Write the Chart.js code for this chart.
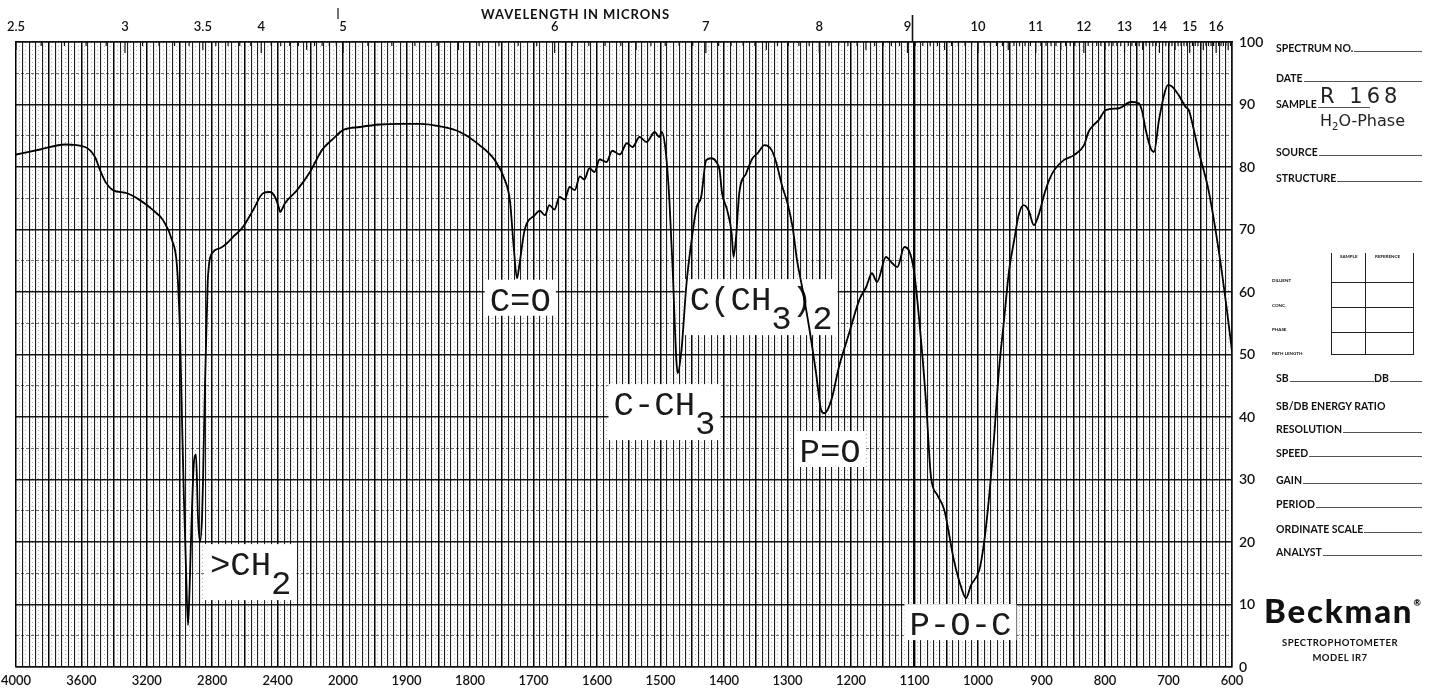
<!DOCTYPE html>
<html>
<head>
<meta charset="utf-8">
<script src="https://cdn.jsdelivr.net/npm/chart.js@4.4.1/dist/chart.umd.min.js"></script>
<style>
  html, body { margin: 0; padding: 0; background: #fff; }
  #sheet { position: relative; width: 1435px; height: 690px; overflow: hidden; color: #111;
           font-family: Lato, "DejaVu Sans", sans-serif; }
  #sheet canvas { position: absolute; left: 0; top: 0; }
  .title { position: absolute; left: 481px; top: 6px; font: 700 13px Lato, sans-serif; letter-spacing: 0.9px; }
  .row { position: absolute; left: 1276px; width: 146px; display: flex; align-items: baseline;
         font: 700 10.5px Lato, "DejaVu Sans", sans-serif; white-space: nowrap; }
  .row i { flex: 1; border-bottom: 1px solid #555; margin-left: 1px; }
  .hand { position: absolute; font-family: "DejaVu Sans", sans-serif; color: #222; white-space: nowrap; }
  .tiny { position: absolute; font: 700 4.5px Lato, sans-serif; white-space: nowrap; }
  .grid-box { position: absolute; border-color: #222; border-style: solid; }
  .brand { position: absolute; left: 1264px; top: 590px; font: 900 33px Lato, sans-serif; letter-spacing: 1.8px; }
  .brand sup { font-size: 9px; vertical-align: top; position: relative; top: 7px; letter-spacing: 0; }
  .model { position: absolute; left: 1270px; width: 140px; text-align: center;
           font: 700 9.5px Lato, sans-serif; letter-spacing: 0.5px; }
</style>
</head>
<body>
<div id="sheet">
  <canvas id="ir" width="1435" height="690"></canvas>
  <div class="title">WAVELENGTH IN MICRONS</div>

  <div class="row" style="top:42px">SPECTRUM NO.<i></i></div>
  <div class="row" style="top:72px">DATE<i></i></div>
  <div class="row" style="top:98px">SAMPLE<i style="flex:0 0 52px"></i></div>
  <div class="hand" style="left:1320px;top:84px;font-size:21px;letter-spacing:4px">R 168</div>
  <div class="hand" style="left:1320px;top:111px;font-size:16px">H<sub style="font-size:10px">2</sub>O-Phase</div>
  <div class="row" style="top:146px">SOURCE<i></i></div>
  <div class="row" style="top:172px">STRUCTURE<i></i></div>

  <div class="grid-box" style="left:1331px;top:253px;width:81px;height:101px;border-width:0 1px 1px 1px"></div>
  <div class="grid-box" style="left:1365px;top:253px;width:0;height:102px;border-width:0 0 0 1px"></div>
  <div class="grid-box" style="left:1331px;top:282px;width:82px;height:0;border-width:1px 0 0 0"></div>
  <div class="grid-box" style="left:1331px;top:307px;width:82px;height:0;border-width:1px 0 0 0"></div>
  <div class="grid-box" style="left:1331px;top:332px;width:82px;height:0;border-width:1px 0 0 0"></div>
  <div class="tiny" style="left:1340px;top:254px">SAMPLE</div>
  <div class="tiny" style="left:1375px;top:254px">REFERENCE</div>
  <div class="tiny" style="left:1272px;top:278px">DILUENT</div>
  <div class="tiny" style="left:1272px;top:303px">CONC.</div>
  <div class="tiny" style="left:1272px;top:327px">PHASE</div>
  <div class="tiny" style="left:1272px;top:351px">PATH LENGTH</div>

  <div class="row" style="top:372px">SB<i></i>DB<i style="flex:0 0 32px"></i></div>
  <div class="row" style="top:400px">SB/DB ENERGY RATIO</div>
  <div class="row" style="top:423px">RESOLUTION<i></i></div>
  <div class="row" style="top:447px">SPEED<i></i></div>
  <div class="row" style="top:474px">GAIN<i></i></div>
  <div class="row" style="top:498px">PERIOD<i></i></div>
  <div class="row" style="top:523px">ORDINATE SCALE<i></i></div>
  <div class="row" style="top:546px">ANALYST<i></i></div>

  <div class="brand">Beckman<sup>&reg;</sup></div>
  <div class="model" style="top:637px">SPECTROPHOTOMETER</div>
  <div class="model" style="top:652px">MODEL IR7</div>
</div>

<script>
// Infrared spectrum, wavenumber (cm-1) against percent transmittance
const wavenumbers = [
  4000, 3853, 3700, 3578, 3517, 3486, 3450, 3407, 3321, 3242, 3162, 3101, 3046, 3015,
  2997, 2985, 2973, 2960, 2948, 2939, 2930, 2911, 2899, 2887, 2875, 2862, 2856, 2844,
  2832, 2826, 2795, 2752, 2710, 2673, 2612, 2550, 2489, 2447, 2416, 2391, 2385, 2355,
  2281, 2202, 2129, 2061, 2000, 1973, 1942, 1910, 1879, 1847, 1816, 1785, 1761, 1745,
  1737, 1731, 1726, 1722, 1714, 1698, 1690, 1682, 1675, 1667, 1659, 1651, 1643, 1635,
  1627, 1620, 1612, 1604, 1596, 1585, 1576, 1564, 1553, 1544, 1533, 1522, 1509, 1502,
  1498, 1492, 1486, 1481, 1475, 1473, 1467, 1459, 1451, 1443, 1436, 1428, 1420, 1412,
  1407, 1403, 1395, 1388, 1385, 1381, 1376, 1365, 1355, 1347, 1336, 1325, 1318, 1308,
  1300, 1292, 1285, 1277, 1266, 1255, 1247, 1242, 1231, 1219, 1203, 1187, 1176, 1167,
  1159, 1145, 1135, 1127, 1116, 1109, 1101, 1093, 1082, 1074, 1064, 1053, 1038, 1025,
  1019, 1011, 998, 991, 983, 975, 967, 959, 951, 943, 936, 928, 920, 912,
  904, 896, 888, 880, 865, 849, 833, 826, 818, 810, 799, 778, 759, 747,
  742, 736, 728, 723, 715, 707, 701, 696, 684, 673, 668, 660, 653, 637,
  621, 608, 600
];
const transmittance = [
  82.0, 82.8, 83.6, 83.2, 81.6, 79.5, 77.5, 76.3, 75.8, 74.7, 73.1, 71.5, 68.3, 64.0,
  53.4, 40.0, 27.0, 15.5, 6.7, 12.0, 20.0, 33.0, 34.0, 24.0, 20.0, 24.0, 30.0, 45.4,
  57.1, 62.4, 66.4, 67.0, 67.8, 68.8, 70.4, 73.1, 75.8, 76.0, 75.2, 73.4, 72.8, 74.2,
  76.3, 79.2, 82.7, 84.5, 85.9, 86.4, 86.8, 86.9, 86.9, 86.5, 85.6, 83.5, 81.1, 77.9,
  74.5, 67.0, 62.2, 64.5, 69.9, 72.3, 73.0, 72.3, 73.9, 73.2, 75.2, 74.8, 76.8, 76.3,
  78.5, 78.0, 79.8, 79.2, 81.2, 80.8, 82.6, 82.0, 83.8, 83.2, 84.8, 84.0, 85.6, 84.8,
  85.6, 82.7, 74.7, 64.0, 49.1, 47.0, 50.7, 61.4, 68.3, 73.6, 75.2, 81.1, 81.4, 80.8,
  79.5, 75.8, 73.1, 69.4, 65.6, 68.8, 75.8, 79.0, 81.4, 82.2, 83.5, 82.7, 80.8, 76.8,
  74.2, 70.4, 65.1, 60.8, 54.4, 47.0, 41.1, 40.6, 42.7, 48.0, 53.4, 58.7, 60.8, 63.0,
  61.6, 65.6, 64.6, 64.0, 67.2, 66.7, 63.5, 56.0, 42.7, 30.4, 27.5, 25.1, 17.1, 12.3,
  11.0, 13.1, 15.5, 19.5, 26.7, 36.3, 47.5, 55.5, 63.5, 68.3, 72.3, 73.9, 73.0, 70.7,
  72.5, 75.5, 77.9, 79.5, 81.1, 81.9, 83.5, 85.6, 86.7, 87.5, 89.1, 89.4, 90.4, 90.2,
  89.1, 86.0, 83.0, 82.4, 87.5, 91.5, 93.1, 93.0, 91.5, 89.6, 89.1, 85.9, 82.7, 76.3,
  66.7, 57.1, 50.5
];

const wavenumberLabels = [4000, 3600, 3200, 2800, 2400, 2000, 1900, 1800, 1700, 1600,
                          1500, 1400, 1300, 1200, 1100, 1000, 900, 800, 700, 600];
const micronLabels = [2.5, 3, 3.5, 4, 5, 6, 7, 8, 9, 10, 11, 12, 13, 14, 15, 16];
const percentLabels = [0, 10, 20, 30, 40, 50, 60, 70, 80, 90, 100];

// band assignments; "_" puts the next character on the subscript line
const bandNames = ['>CH_2', 'C=O', 'C(CH_3)_2', 'C-CH_3', 'P=O', 'P-O-C'];
const bandWavenumbers = [2814, 1769, 1454, 1574, 1281, 1108];
const bandLevels = [14.7, 57.0, 57.1, 40.3, 32.8, 5.1];

// chart paper switches scale at 2000 cm-1: the 4000-2000 part is compressed
const BREAK = 2000;
const SPLIT = 327 / 1216;

class WavenumberScale extends Chart.LinearScale {
  static id = 'wavenumber';
  static defaults = {};

  getPixelForValue(v) {
    let f;
    if (v >= BREAK) f = (this.max - v) / (this.max - BREAK) * SPLIT;
    else f = SPLIT + (BREAK - v) / (BREAK - this.min) * (1 - SPLIT);
    return this.left + f * this.width;
  }

  getValueForPixel(p) {
    const f = (p - this.left) / this.width;
    if (f <= SPLIT) return this.max - f / SPLIT * (this.max - BREAK);
    return BREAK - (f - SPLIT) / (1 - SPLIT) * (BREAK - this.min);
  }
}
Chart.register(WavenumberScale);

// grid every 20 cm-1 above the break, every 5 cm-1 below it
const gridValues = [];
for (let v = 4000; v > BREAK; v -= 20) gridValues.push(v);
for (let v = BREAK; v >= 600; v -= 5) gridValues.push(v);

const isDotted = v => (v > BREAK ? v % 40 !== 0 : v % 10 !== 0);
const isHeavy = v => (v > BREAK ? v % 200 === 0 : v % 50 === 0);

// let the end labels hang over the frame edge like on the printed paper
const noOverhang = scale => { scale.paddingLeft = 0; scale.paddingRight = 0; };

function splitLabel(name) {
  const parts = [];
  for (let i = 0; i < name.length; i++) {
    if (name[i] === '_') { parts.push({ text: name[i + 1], sub: true }); i++; }
    else if (parts.length && !parts[parts.length - 1].sub) parts[parts.length - 1].text += name[i];
    else parts.push({ text: name[i], sub: false });
  }
  return parts;
}

const bandLabelPlugin = {
  id: 'bandLabels',
  beforeDatasetsDraw(chart) {
    const { ctx, scales: { x, y } } = chart;
    ctx.save();
    ctx.font = '34px "Liberation Mono", "DejaVu Sans Mono", monospace';
    ctx.textBaseline = 'alphabetic';
    bandNames.forEach((name, i) => {
      const px = x.getPixelForValue(bandWavenumbers[i]);
      const py = y.getPixelForValue(bandLevels[i]);
      const parts = splitLabel(name);
      const width = parts.reduce((w, p) => w + ctx.measureText(p.text).width, 0);
      const hasSub = parts.some(p => p.sub);
      ctx.fillStyle = '#fff';
      ctx.fillRect(px - 5, py - 31, width + 10, hasSub ? 56 : 36);
      ctx.fillStyle = '#1a1a1a';
      let cx = px;
      parts.forEach(p => {
        ctx.fillText(p.text, cx, py + (p.sub ? 19 : 0));
        cx += ctx.measureText(p.text).width;
      });
    });
    ctx.restore();
  },
  afterDraw(chart) {
    const { ctx, scales: { top }, chartArea } = chart;
    ctx.save();
    ctx.strokeStyle = '#111';
    // short wavelength ticks hanging from the top frame, every 0.1 micron
    ctx.lineWidth = 1.2;
    for (let t = 25; t <= 166; t++) {
      const px = top.getPixelForValue(100000 / t);
      const len = t % 10 === 0 ? 11 : (t % 5 === 0 ? 8 : 4);
      ctx.beginPath(); ctx.moveTo(px, chartArea.top); ctx.lineTo(px, chartArea.top + len); ctx.stroke();
    }
    // pen marks above the frame where the paper changes at 5 and 9 microns
    const x5 = top.getPixelForValue(2000) - 5;
    ctx.beginPath(); ctx.moveTo(x5, 8); ctx.lineTo(x5, 19); ctx.stroke();
    const x9 = top.getPixelForValue(1100) - 2;
    ctx.lineWidth = 1.6;
    ctx.beginPath(); ctx.moveTo(x9, 15); ctx.lineTo(x9, chartArea.top); ctx.stroke();
    ctx.restore();
  }
};

const labelFont = { family: 'Lato, "DejaVu Sans", sans-serif', size: 13, weight: '600' };

new Chart(document.getElementById('ir'), {
  type: 'line',
  data: {
    datasets: [{
      data: wavenumbers.map((w, i) => ({ x: w, y: transmittance[i] })),
      borderColor: '#000',
      borderWidth: 1.8,
      pointRadius: 0,
      fill: false,
      cubicInterpolationMode: 'monotone'
    }]
  },
  options: {
    responsive: false,
    animation: false,
    layout: { padding: { left: 16, right: 0, top: 0, bottom: 0 } },
    plugins: { legend: { display: false }, tooltip: { enabled: false } },
    scales: {
      x: {
        type: 'wavenumber',
        position: 'bottom',
        min: 600,
        max: 4000,
        afterBuildTicks: scale => { scale.ticks = gridValues.map(value => ({ value })); },
        afterFit: scale => { scale.height = 23; noOverhang(scale); },
        ticks: {
          autoSkip: false,
          maxRotation: 0,
          padding: 6,
          color: '#111',
          font: labelFont,
          callback: v => (wavenumberLabels.includes(v) ? String(v) : '')
        },
        grid: {
          drawTicks: false,
          color: c => {
            if (!c.tick) return '#111';
            const v = c.tick.value;
            if (v === 1100) return '#000';
            if (isDotted(v)) return 'rgba(0,0,0,0.35)';
            return isHeavy(v) ? '#000' : 'rgba(0,0,0,0.88)';
          },
          lineWidth: c => {
            if (!c.tick) return 1;
            const v = c.tick.value;
            if (v === 1100) return 2.4;
            if (isDotted(v)) return 0.9;
            return isHeavy(v) ? 1.5 : 1.1;
          }
        },
        border: {
          color: '#111',
          width: 1.5,
          dash: c => (c.tick && isDotted(c.tick.value) ? [1, 3] : [])
        }
      },
      top: {
        type: 'wavenumber',
        position: 'top',
        min: 600,
        max: 4000,
        afterBuildTicks: scale => { scale.ticks = micronLabels.map(m => ({ value: 10000 / m })); },
        afterFit: scale => { scale.height = 42; noOverhang(scale); },
        ticks: {
          autoSkip: false,
          maxRotation: 0,
          padding: 7,
          color: '#111',
          font: { family: 'Lato, "DejaVu Sans", sans-serif', size: 13, weight: '600' },
          callback: (v, i) => String(micronLabels[i])
        },
        grid: { drawOnChartArea: false, drawTicks: false },
        border: { color: '#111', width: 1.6 }
      },
      y: {
        position: 'right',
        min: 0,
        max: 100,
        afterFit: scale => { scale.width = 203; },
        ticks: {
          stepSize: 5,
          padding: 7,
          color: '#111',
          font: { family: 'Lato, "DejaVu Sans", sans-serif', size: 14, weight: '600' },
          callback: v => (percentLabels.includes(v) ? String(v) : '')
        },
        grid: {
          drawTicks: false,
          color: c => (c.tick && c.tick.value % 10 !== 0 ? 'rgba(0,0,0,0.55)' : 'rgba(0,0,0,0.9)'),
          lineWidth: c => (c.tick && c.tick.value % 10 !== 0 ? 1 : 1.4)
        },
        border: {
          color: '#111',
          width: 1.5,
          dash: c => (c.tick && c.tick.value % 10 !== 0 ? [3, 2] : [])
        }
      }
    }
  },
  plugins: [bandLabelPlugin]
});
</script>
</body>
</html>
